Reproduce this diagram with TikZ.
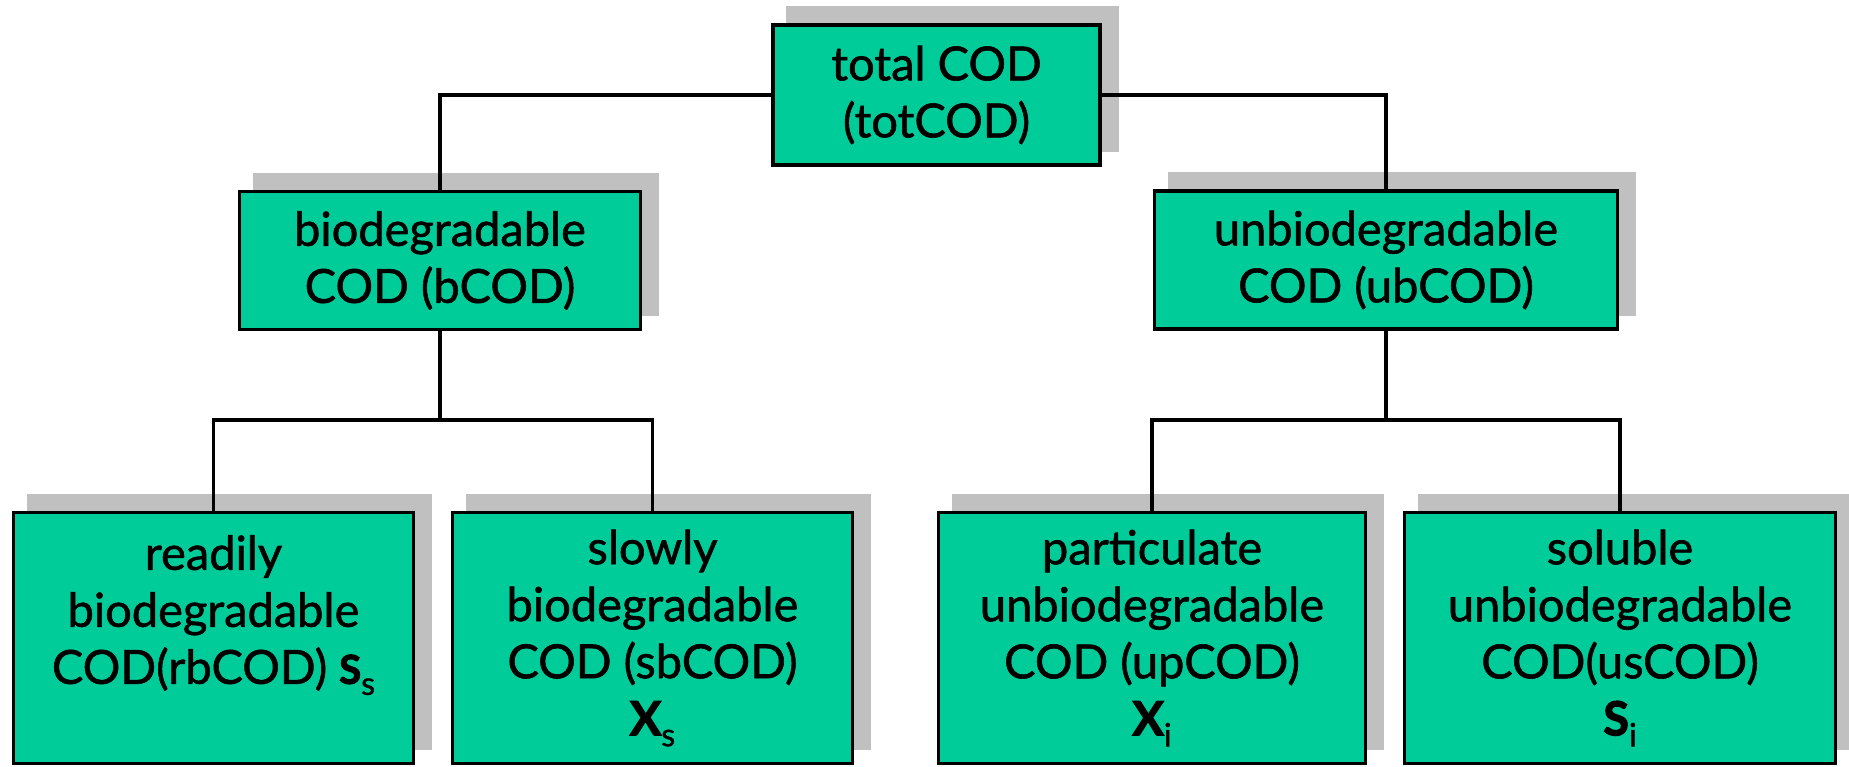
\documentclass[tikz,border=0pt]{standalone}
\usepackage{fontspec}
\setmainfont{Lato}[UprightFeatures={FakeBold=1.2}, BoldFeatures={FakeBold=2.5}]
\definecolor{boxgreen}{RGB}{0,204,153}
\definecolor{shadowgray}{RGB}{192,192,192}
\pgfdeclarelayer{shadowlayer}
\pgfsetlayers{shadowlayer,main}
\tikzset{
  codbox/.style={draw=black, fill=boxgreen, line width=3.6pt, rectangle, inner sep=0pt,
    align=center, font=\fontsize{47}{57}\selectfont},
  conn/.style={draw=black, line width=3.2pt},
  shadowfill/.style={fill=shadowgray},
}
\newcommand{\subx}[3][47]{{\fontsize{#1}{57}\selectfont\bfseries #2}\raisebox{-11pt}{\fontsize{32}{32}\selectfont #3}}
\begin{document}
\begin{tikzpicture}[x=1pt,y=-1pt]
\useasboundingbox (0,0) rectangle (1849,767);
\node[codbox, minimum width=327pt, minimum height=140pt] (T) at (936.5,95) {total COD\\(totCOD)};
\node[codbox, minimum width=401pt, minimum height=138pt] (B) at (440,260.5) {biodegradable\\COD (bCOD)};
\node[codbox, minimum width=463pt, minimum height=138pt] (U) at (1386,260) {unbiodegradable\\COD (ubCOD)};
\node[codbox, minimum width=400pt, minimum height=251pt] (R) at (213.5,638) {readily\\biodegradable\\COD(rbCOD) \subx[40]{S}{s}\\\mbox{}};
\node[codbox, minimum width=400pt, minimum height=251pt] (S) at (652.5,638) {slowly\\biodegradable\\COD (sbCOD)\\\subx{X}{s}};
\node[codbox, minimum width=427pt, minimum height=251pt] (P) at (1152,638) {particulate\\unbiodegradable\\COD (upCOD)\\\subx{X}{i}};
\node[codbox, minimum width=431pt, minimum height=251pt] (Q) at (1620,638) {soluble\\unbiodegradable\\COD(usCOD)\\\subx{S}{i}};
\begin{pgfonlayer}{shadowlayer}
\foreach \n in {T,B,U,R,S,P,Q}{
  \fill[shadowfill] ([xshift=15pt,yshift=15pt]\n.south west) rectangle ([xshift=17pt,yshift=17pt]\n.north east);
}
\end{pgfonlayer}
\coordinate (bj) at (440,420);
\coordinate (uj) at (1386,420);
\draw[conn] (T.west) -| (B.north);
\draw[conn] (T.east) -| (U.north);
\draw[conn] (B.south) -- (bj);
\draw[conn] (U.south) -- (uj);
\draw[conn] (R.north) |- (bj) -| (S.north);
\draw[conn] (P.north) |- (uj) -| (Q.north);
\end{tikzpicture}
\end{document}
